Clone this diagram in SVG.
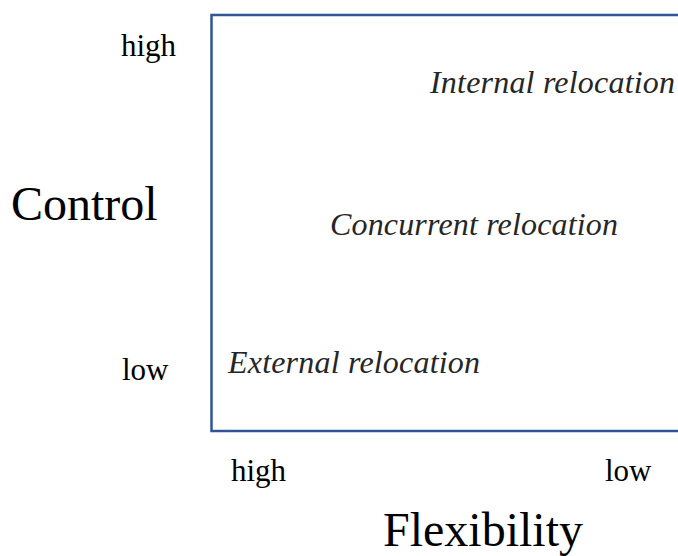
<svg xmlns="http://www.w3.org/2000/svg" width="678" height="556" viewBox="0 0 678 556">
<style>
.lbl{font-family:"Liberation Serif","Times New Roman",serif;fill:#000;}
.ax{font-size:48px;}
.tick{font-size:31px;}
.it{font-family:"Liberation Serif","Times New Roman",serif;font-style:italic;font-size:32px;fill:#262626;}
.frame{fill:none;stroke:#2F5597;stroke-width:2.5;}
</style>
<rect width="678" height="556" fill="#fff"/>
<g id="frame"><rect class="frame" x="211.5" y="15" width="500" height="416"/></g>
<g id="axis-y">
<text class="lbl tick" x="121" y="56">high</text>
<text class="lbl ax" x="11" y="220">Control</text>
<text class="lbl tick" x="122" y="380">low</text>
</g>
<g id="axis-x">
<text class="lbl tick" x="231" y="481">high</text>
<text class="lbl tick" x="605" y="481">low</text>
<text class="lbl ax" x="383" y="546">Flexibility</text>
</g>
<g id="internal"><text class="it" x="430" y="93" textLength="245" lengthAdjust="spacing">Internal relocation</text></g>
<g id="concurrent"><text class="it" x="330" y="235" textLength="288" lengthAdjust="spacing">Concurrent relocation</text></g>
<g id="external"><text class="it" x="228" y="373" textLength="252" lengthAdjust="spacing">External relocation</text></g>
</svg>
